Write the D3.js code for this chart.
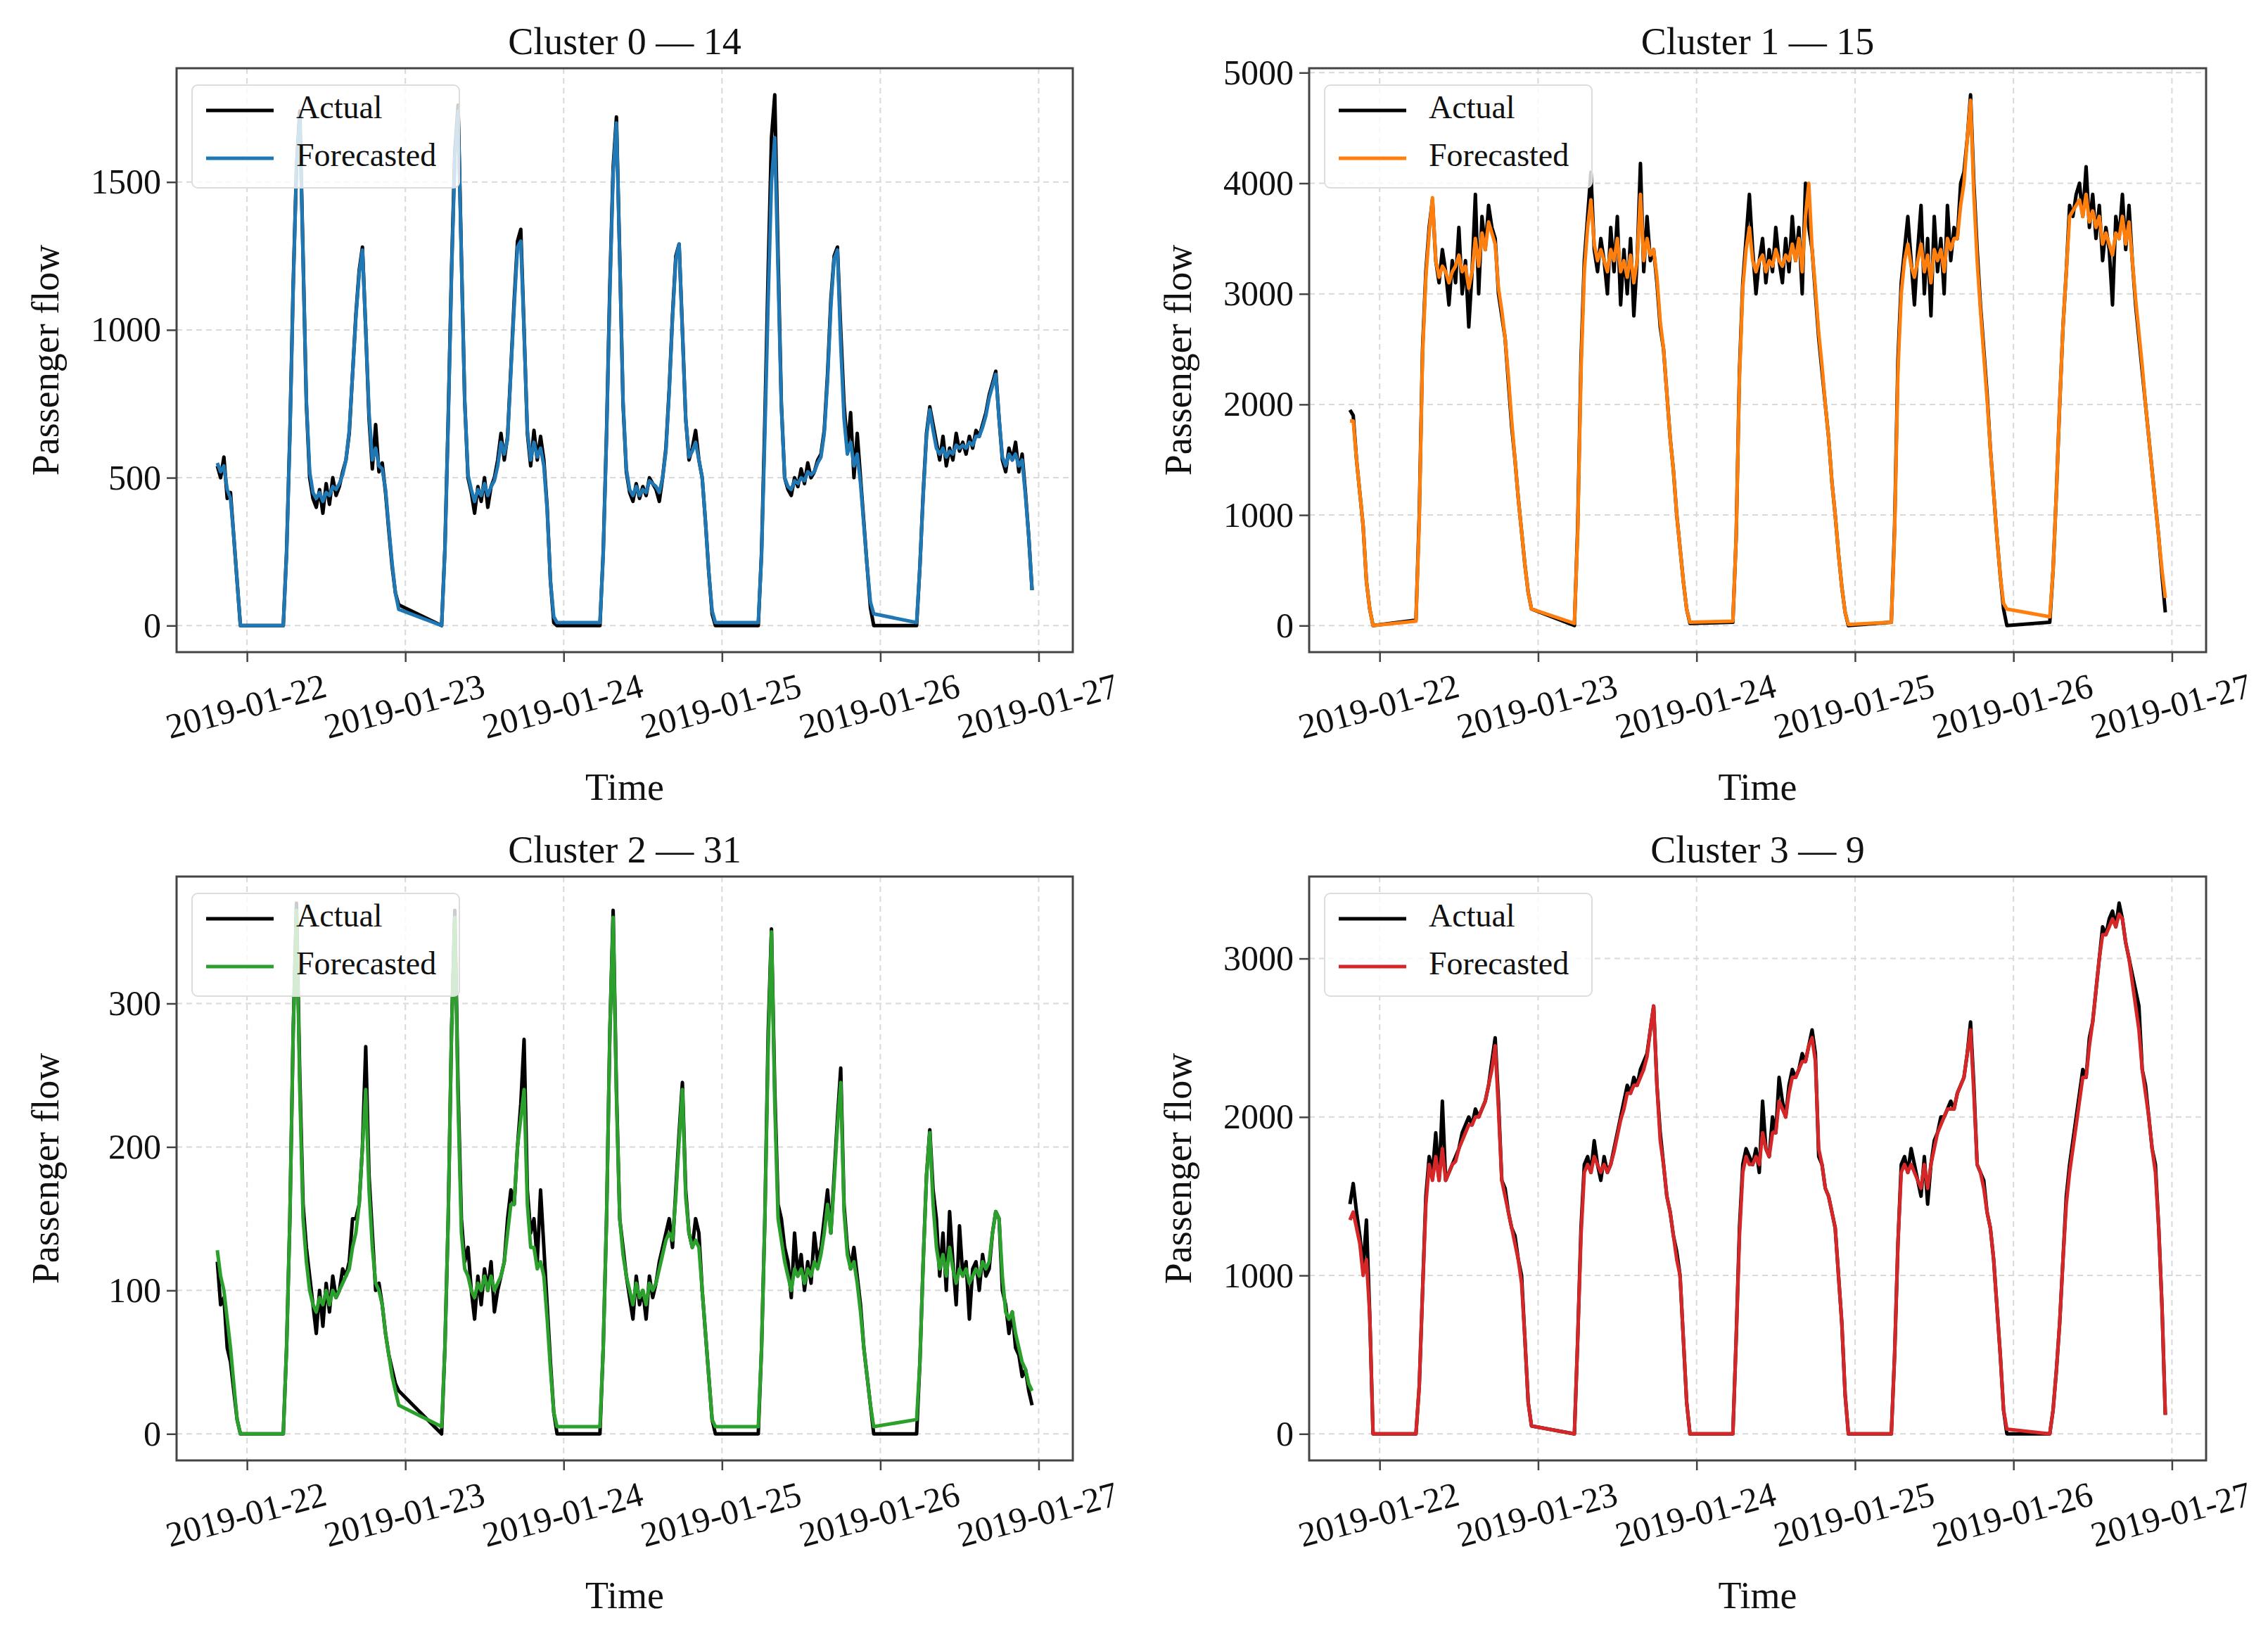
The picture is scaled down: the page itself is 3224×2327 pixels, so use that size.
<!DOCTYPE html>
<html>
<head>
<meta charset="utf-8">
<script src="https://cdn.jsdelivr.net/npm/d3@7"></script>
<style>
  body { margin: 0; background: #fff; }
  svg text { font-family: "Liberation Serif", "DejaVu Serif", serif; fill: #111; }
</style>
</head>
<body>
<svg id="chart" width="3224" height="2327"></svg>
<script>
// Forecast vs actual passenger flow, four station clusters, 21-26 Jan 2019

const TITLES = ['Cluster 0 \u2014 14', 'Cluster 1 \u2014 15', 'Cluster 2 \u2014 31', 'Cluster 3 \u2014 9'];
const COLORS = ['#1f77b4', '#ff7f0e', '#2ca02c', '#d62728'];
const TICK_STEPS = [500, 1000, 100, 1000];
const X_TICKS = ['2019-01-22', '2019-01-23', '2019-01-24', '2019-01-25', '2019-01-26', '2019-01-27'];

// hours of the day for the first (partial) evening and for each full service day
const START_HOURS = [19.5, 20, 20.5, 21, 21.5, 22, 22.5, 23];
const DAY_HOURS = [5.5, 6, 6.5, 7, 7.5, 8, 8.5, 9, 9.5, 10, 10.5, 11, 11.5, 12, 12.5, 13, 13.5, 14,
                   14.5, 15, 15.5, 16, 16.5, 17, 17.5, 18, 18.5, 19, 19.5, 20, 20.5, 21, 21.5, 22, 22.5, 23];

// each row: 21 Jan evening, then 22..26 Jan
const C0_ACTUAL = [
  [540, 500, 570, 430, 450, 300, 150, 0],
  [0,250,650,1150,1550,1740,1250,750,500,430,400,460,380,480,410,500,440,470,520,560,650,850,1050,1200,1280,1000,700,530,680,520,550,450,320,200,110,70],
  [0,260,700,1200,1600,1760,1250,760,500,450,380,470,420,500,400,470,500,560,650,560,640,870,1100,1300,1340,1000,650,540,660,560,640,560,400,150,10,0],
  [0,250,650,1150,1550,1720,1250,750,520,450,420,480,430,470,440,500,480,460,420,500,600,800,1050,1250,1290,1000,700,560,600,660,560,500,350,180,40,0],
  [0,250,700,1200,1650,1795,1250,750,500,460,440,500,470,530,480,550,500,520,560,580,660,850,1100,1250,1280,1000,750,600,720,500,650,500,350,200,60,0],
  [0,200,450,650,740,680,620,560,640,540,600,560,650,590,620,580,640,600,660,640,680,720,780,820,860,700,560,520,600,560,620,520,580,450,300,120]
];
const C0_FORECAST = [
  [550, 520, 540, 460, 430, 300, 150, 0],
  [0,240,640,1140,1540,1720,1240,760,520,450,430,450,420,450,440,470,460,480,510,560,660,850,1040,1190,1270,1000,720,560,600,540,530,460,330,210,110,55],
  [0,250,690,1180,1580,1740,1240,760,510,460,420,460,440,480,440,470,490,540,620,580,630,860,1080,1280,1300,990,660,560,620,570,600,540,390,150,30,10],
  [10,240,640,1130,1530,1700,1240,760,530,460,440,470,440,460,450,490,480,470,450,500,590,790,1040,1240,1290,990,700,570,590,620,560,500,350,180,50,10],
  [10,240,650,1100,1500,1650,1200,740,500,470,460,490,480,500,490,520,510,520,550,570,650,830,1080,1240,1270,950,700,580,620,540,580,480,340,200,80,40],
  [10,200,440,640,730,660,600,580,600,570,590,580,610,600,610,600,620,610,640,640,670,710,770,810,850,700,570,540,580,560,580,540,560,440,300,120]
];

const C1_ACTUAL = [
  [1950, 1900, 1500, 1200, 900, 400, 150, 0],
  [50,1000,2500,3200,3600,3850,3300,3100,3400,3200,2900,3300,3100,3600,3000,3300,2700,3200,3900,3000,3700,3400,3800,3600,3500,3000,2800,2600,2200,1800,1500,1150,850,550,300,150],
  [0,900,2400,3300,3700,4100,3400,3200,3500,3300,3000,3600,3200,3700,2900,3400,3000,3500,2800,3300,4180,3200,3700,3300,3400,3100,2700,2500,2100,1700,1400,1000,700,400,150,20],
  [30,800,2300,3100,3500,3900,3400,3000,3300,3500,3100,3400,3200,3600,3300,3100,3500,3200,3700,3300,3600,3000,4000,3600,3400,3000,2600,2300,2000,1700,1300,1000,650,350,120,0],
  [30,900,2400,3100,3400,3700,3300,2900,3400,3800,3000,3500,2800,3700,3200,3500,3000,3800,3300,3600,3500,4000,4100,4400,4800,4000,3400,2900,2500,2100,1600,1200,800,450,150,0],
  [30,500,1200,2000,2700,3200,3800,3700,3900,4000,3700,4150,3600,3900,3500,3800,3300,3600,3400,2900,3700,3500,3900,3400,3800,3300,2900,2600,2300,2000,1700,1400,1100,800,450,120]
];
const C1_FORECAST = [
  [1850, 1850, 1500, 1200, 900, 400, 150, 0],
  [40,950,2450,3150,3550,3870,3300,3150,3250,3200,3100,3200,3250,3350,3200,3250,3050,3200,3500,3250,3550,3400,3650,3550,3450,3050,2850,2600,2250,1850,1500,1150,850,550,300,150],
  [20,850,2300,3200,3600,3850,3450,3300,3400,3300,3200,3400,3300,3500,3200,3300,3150,3350,3100,3300,3900,3300,3500,3350,3400,3150,2750,2500,2100,1700,1400,1000,700,400,150,30],
  [40,800,2250,3050,3400,3600,3300,3200,3300,3350,3200,3300,3250,3400,3300,3250,3350,3300,3450,3300,3500,3200,3700,4000,3400,3050,2650,2350,2000,1700,1300,1000,650,350,120,10],
  [30,850,2300,3000,3300,3450,3250,3150,3300,3450,3200,3350,3100,3400,3300,3400,3200,3500,3400,3500,3500,3800,4000,4400,4750,3900,3300,2850,2450,2050,1600,1200,800,450,200,150],
  [80,500,1200,2000,2700,3200,3700,3750,3800,3850,3700,3900,3650,3750,3600,3700,3450,3550,3450,3350,3550,3500,3700,3450,3650,3300,2950,2650,2350,2000,1700,1400,1100,800,500,250]
];

const C2_ACTUAL = [
  [120, 90, 95, 60, 50, 30, 10, 0],
  [0,60,150,280,370,250,160,130,110,90,70,100,75,105,85,110,95,100,115,110,120,150,150,160,200,270,180,140,100,105,90,70,55,45,35,30],
  [0,60,150,280,365,240,150,120,130,100,80,110,90,115,100,120,85,100,110,120,150,170,160,200,230,275,170,140,150,120,170,130,90,50,15,0],
  [0,60,150,280,365,240,150,130,110,95,80,110,90,100,80,110,95,105,120,130,140,150,130,170,210,245,170,140,130,150,140,100,70,40,10,0],
  [0,60,150,280,352,240,160,150,130,120,95,140,110,125,100,120,105,140,120,130,150,170,140,180,220,255,160,130,115,130,110,90,60,40,20,0],
  [0,50,120,180,212,170,150,110,140,100,155,120,90,145,110,120,80,115,120,100,125,110,115,140,155,150,100,90,70,85,60,55,40,45,30,20]
];
const C2_FORECAST = [
  [128, 110, 100, 80, 60, 35, 10, 0],
  [0,60,150,280,365,240,150,120,100,90,85,95,90,100,90,100,95,100,105,110,115,130,140,160,200,240,170,130,105,100,90,70,55,40,30,20],
  [5,60,150,280,360,230,140,115,110,100,95,105,100,110,100,110,100,105,110,120,140,160,160,200,220,240,160,130,130,115,120,110,80,45,15,5],
  [5,60,150,280,360,235,150,125,110,100,90,105,95,100,90,105,100,105,115,125,135,140,135,165,205,240,165,140,130,135,130,100,70,40,10,5],
  [5,60,150,270,350,230,150,135,120,110,100,115,110,115,105,115,110,120,115,125,140,160,140,175,215,245,155,125,115,120,105,85,60,40,20,5],
  [10,50,120,180,210,160,130,115,125,110,130,115,105,115,110,115,105,110,115,110,120,115,120,140,155,150,110,85,80,85,70,60,50,45,35,30]
];

const C3_ACTUAL = [
  [1450, 1580, 1400, 1250, 1050, 1350, 750, 0],
  [0,300,900,1500,1750,1650,1900,1600,2100,1600,1650,1700,1750,1800,1900,1950,2000,1950,2050,2000,2050,2100,2200,2350,2500,2100,1600,1550,1400,1300,1250,1100,1000,600,200,50],
  [0,600,1300,1700,1750,1650,1850,1700,1600,1750,1650,1700,1800,1900,2000,2100,2200,2150,2250,2200,2300,2350,2400,2550,2700,2200,1900,1700,1500,1400,1250,1150,1000,600,200,0],
  [0,600,1300,1700,1800,1750,1700,1800,1650,2100,1800,1750,2000,1900,2250,2100,2000,2200,2300,2250,2300,2400,2350,2450,2550,2400,1750,1700,1550,1500,1400,1300,1000,700,250,0],
  [0,500,1200,1700,1750,1650,1800,1700,1600,1500,1750,1450,1700,1850,1900,2000,2000,2050,2100,2050,2150,2200,2250,2400,2600,2200,1700,1650,1600,1400,1300,1100,800,500,150,0],
  [0,150,400,700,1100,1500,1700,1850,2000,2150,2300,2250,2500,2600,2800,3000,3200,3150,3250,3300,3200,3350,3250,3100,3000,2900,2800,2700,2300,2200,2000,1800,1700,1300,800,120]
];
const C3_FORECAST = [
  [1350, 1400, 1300, 1200, 1000, 1100, 750, 0],
  [0,300,900,1450,1700,1600,1750,1600,1800,1600,1650,1700,1720,1800,1850,1900,1950,1950,2000,2000,2050,2100,2200,2300,2450,2050,1600,1500,1400,1300,1200,1100,950,600,200,50],
  [0,600,1250,1650,1700,1650,1750,1700,1650,1700,1650,1700,1780,1880,1980,2050,2150,2150,2200,2200,2250,2300,2380,2550,2700,2200,1850,1700,1500,1400,1250,1100,1000,600,200,0],
  [0,600,1250,1650,1750,1700,1700,1750,1700,1900,1800,1750,1900,1900,2100,2050,2000,2150,2250,2250,2300,2350,2350,2450,2500,2350,1800,1700,1550,1500,1400,1300,1000,700,250,0],
  [0,500,1200,1650,1700,1650,1700,1650,1600,1550,1700,1550,1700,1800,1900,1950,2000,2050,2050,2050,2150,2200,2250,2400,2550,2150,1700,1650,1550,1400,1300,1100,800,500,150,30],
  [0,150,400,700,1100,1450,1650,1800,1950,2100,2250,2250,2450,2600,2800,3000,3150,3150,3200,3250,3200,3280,3250,3100,3000,2850,2700,2550,2300,2150,2000,1800,1650,1300,800,120]
];

const ACTUAL = [C0_ACTUAL, C1_ACTUAL, C2_ACTUAL, C3_ACTUAL];
const FORECAST = [C0_FORECAST, C1_FORECAST, C2_FORECAST, C3_FORECAST];

// panel boxes (left, top, right, bottom)
const PANELS = [
  { l: 251, t: 97, r: 1525, b: 927 },
  { l: 1861, t: 97, r: 3136, b: 927 },
  { l: 251, t: 1246, r: 1525, b: 2076 },
  { l: 1861, t: 1246, r: 3136, b: 2076 }
];

function toPoints(rows) {
  const pts = [];
  rows.forEach((row, d) => {
    const hours = d === 0 ? START_HOURS : DAY_HOURS;
    row.forEach((v, i) => {
      pts.push({ t: new Date(Date.UTC(2019, 0, 21 + d) + hours[i] * 3600000), v: v });
    });
  });
  return pts;
}

const svg = d3.select('#chart');
const parseDay = d3.utcParse('%Y-%m-%d');

PANELS.forEach((p, k) => {
  const actual = toPoints(ACTUAL[k]);
  const forecast = toPoints(FORECAST[k]);
  const all = actual.concat(forecast);

  const tExt = d3.extent(all, d => d.t);
  const tPad = (tExt[1] - tExt[0]) * 0.05;
  const x = d3.scaleUtc()
    .domain([new Date(+tExt[0] - tPad), new Date(+tExt[1] + tPad)])
    .range([p.l, p.r]);

  const vExt = d3.extent(all, d => d.v);
  const vPad = (vExt[1] - vExt[0]) * 0.05;
  const y = d3.scaleLinear()
    .domain([vExt[0] - vPad, vExt[1] + vPad])
    .range([p.b, p.t]);

  const step = TICK_STEPS[k];
  const yTicks = d3.range(0, y.domain()[1] + 1e-9, step);
  const xTicks = X_TICKS.map(parseDay);

  const g = svg.append('g');

  // grid
  g.selectAll('.gx').data(xTicks).enter().append('line')
    .attr('x1', d => x(d)).attr('x2', d => x(d))
    .attr('y1', p.t).attr('y2', p.b)
    .attr('stroke', '#d9d9d9').attr('stroke-width', 2).attr('stroke-dasharray', '8,6');
  g.selectAll('.gy').data(yTicks).enter().append('line')
    .attr('x1', p.l).attr('x2', p.r)
    .attr('y1', d => y(d)).attr('y2', d => y(d))
    .attr('stroke', '#d9d9d9').attr('stroke-width', 2).attr('stroke-dasharray', '8,6');

  // lines
  const line = d3.line().x(d => x(d.t)).y(d => y(d.v));
  g.append('path').datum(actual).attr('d', line)
    .attr('fill', 'none').attr('stroke', '#000').attr('stroke-width', 5).attr('stroke-linejoin', 'round');
  g.append('path').datum(forecast).attr('d', line)
    .attr('fill', 'none').attr('stroke', COLORS[k]).attr('stroke-width', 5).attr('stroke-linejoin', 'round');

  // frame
  g.append('rect').attr('x', p.l).attr('y', p.t)
    .attr('width', p.r - p.l).attr('height', p.b - p.t)
    .attr('fill', 'none').attr('stroke', '#444').attr('stroke-width', 3);

  // y axis
  const yAxis = d3.axisLeft(y).tickValues(yTicks).tickSize(14).tickPadding(8).tickFormat(d3.format('d'));
  const ya = g.append('g').attr('transform', `translate(${p.l},0)`).call(yAxis);
  ya.select('.domain').remove();
  ya.selectAll('line').attr('stroke', '#444').attr('stroke-width', 2.5);
  ya.selectAll('text').attr('font-size', 50).attr('fill', '#111');

  // x axis
  const xAxis = d3.axisBottom(x).tickValues(xTicks).tickSize(14).tickFormat('');
  const xa = g.append('g').attr('transform', `translate(0,${p.b})`).call(xAxis);
  xa.select('.domain').remove();
  xa.selectAll('line').attr('stroke', '#444').attr('stroke-width', 2.5);
  g.selectAll('.xl').data(xTicks).enter().append('text')
    .attr('transform', d => `translate(${x(d)},${p.b + 82}) rotate(-15)`)
    .attr('text-anchor', 'middle').attr('dominant-baseline', 'middle')
    .attr('font-size', 50)
    .text(d => d3.utcFormat('%Y-%m-%d')(d));

  // labels
  g.append('text').attr('x', (p.l + p.r) / 2).attr('y', p.b + 210)
    .attr('text-anchor', 'middle').attr('font-size', 54).text('Time');
  g.append('text')
    .attr('transform', `translate(${p.l - 180},${(p.t + p.b) / 2}) rotate(-90)`)
    .attr('text-anchor', 'middle').attr('dominant-baseline', 'middle')
    .attr('font-size', 54).text('Passenger flow');
  g.append('text').attr('x', (p.l + p.r) / 2).attr('y', p.t - 20)
    .attr('text-anchor', 'middle').attr('font-size', 54).text(TITLES[k]);

  // legend
  const lg = g.append('g').attr('transform', `translate(${p.l + 22},${p.t + 24})`);
  lg.append('rect').attr('width', 380).attr('height', 146).attr('rx', 8)
    .attr('fill', '#fff').attr('fill-opacity', 0.8)
    .attr('stroke', '#ddd').attr('stroke-width', 2);
  [['Actual', '#000'], ['Forecasted', COLORS[k]]].forEach((it, i) => {
    const cy = 36 + i * 68;
    lg.append('line').attr('x1', 20).attr('x2', 116).attr('y1', cy).attr('y2', cy)
      .attr('stroke', it[1]).attr('stroke-width', 5);
    lg.append('text').attr('x', 148).attr('y', cy).attr('dominant-baseline', 'middle')
      .attr('font-size', 46).text(it[0]);
  });
});
</script>
</body>
</html>
